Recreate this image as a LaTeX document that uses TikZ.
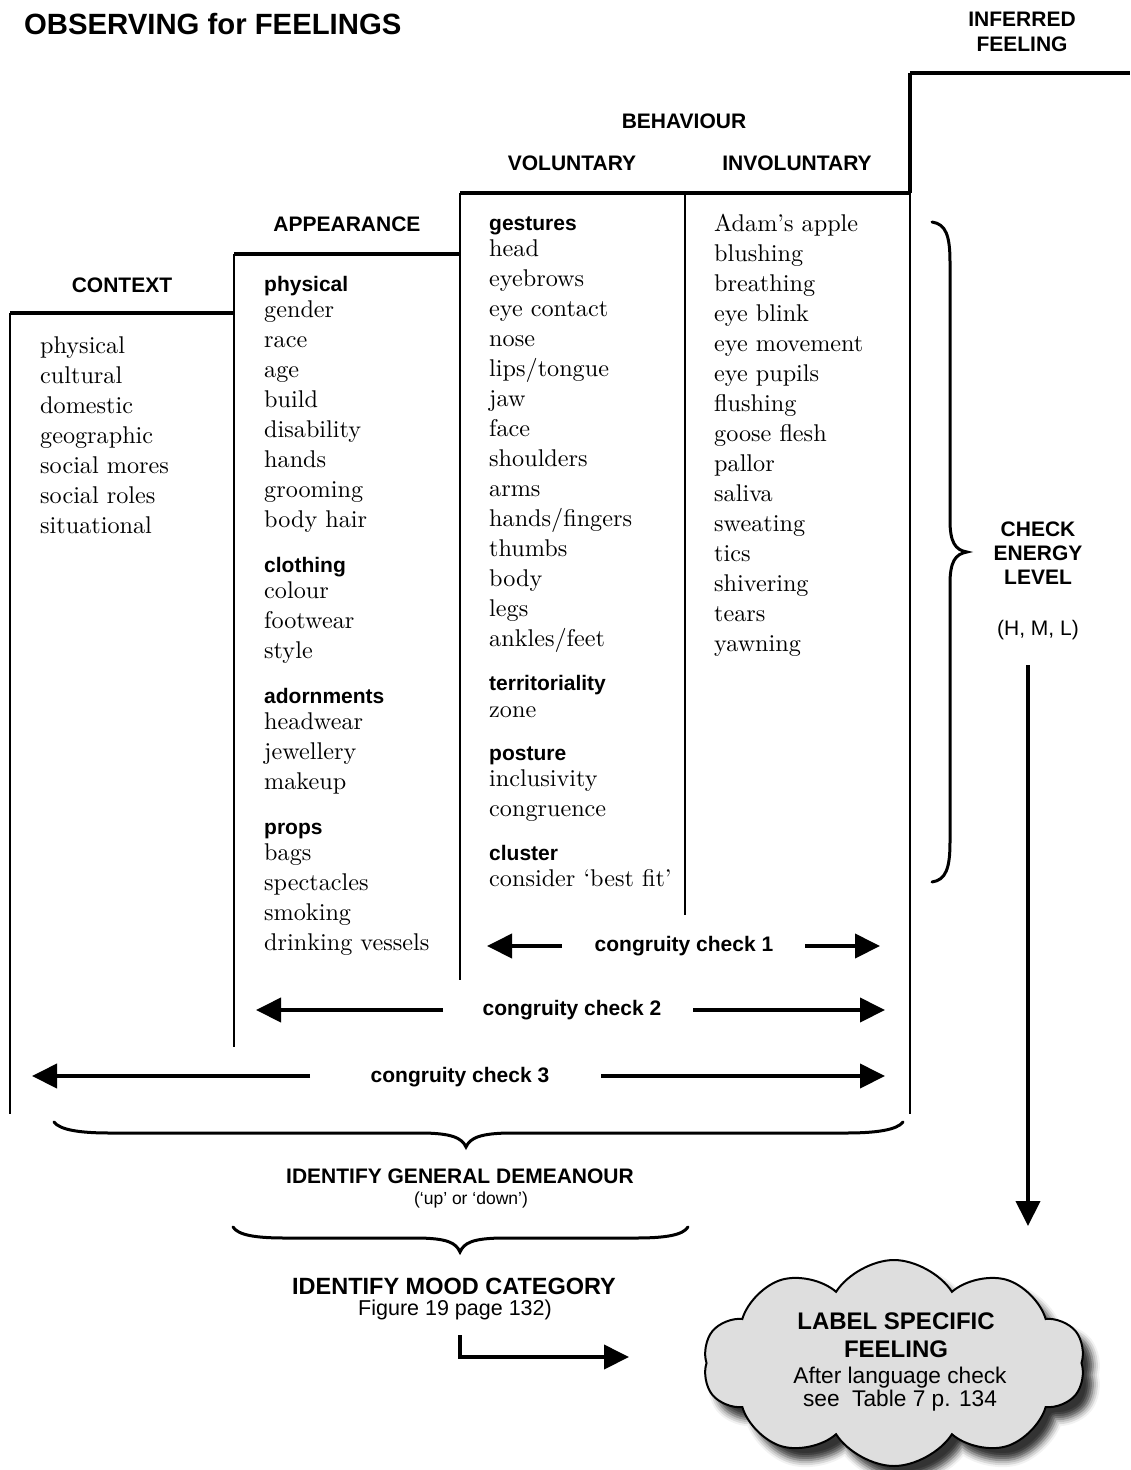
\documentclass[tikz,border=0pt]{standalone}
\usepackage{fontspec}
\setmainfont{lmroman10-regular.otf}
\setsansfont{Liberation Sans}
\usetikzlibrary{arrows.meta,shapes.symbols,shadows.blur}

\definecolor{cloudfill}{RGB}{222,222,222}
\newcommand\grouphead[1]{{\sffamily\bfseries\fontsize{21}{30}\selectfont #1}}

\begin{document}
\begin{tikzpicture}[x=1pt,y=-1pt,
  lab/.style={font=\sffamily\bfseries\fontsize{21}{24}\selectfont, inner sep=0pt, align=center},
  plain/.style={font=\sffamily\fontsize{21}{23}\selectfont, inner sep=0pt, align=center},
  col/.style={anchor=north west, inner sep=0pt, align=left, font=\fontsize{24.2}{30}\selectfont},
  stepline/.style={line width=4pt},
  rule/.style={line width=2.8pt},
  bracestroke/.style={line width=3pt, line cap=round},
  arr/.style={line width=4pt, line join=miter, -{Triangle[length=25pt,width=24pt]}},
]
\useasboundingbox (0,0) rectangle (1130,1470);

% staircase outline
\draw[stepline] (10,313) -- (234,313) (234,254) -- (460,254)
                (460,193) -- (910,193) (910,73) -- (1130,73);
\draw[rule] (10,313) -- (10,1114);
\draw[rule] (234,254) -- (234,1047);
\draw[rule] (460,193) -- (460,980);
\draw[rule] (685,193) -- (685,915);
\draw[stepline] (910,73) -- (910,193);
\draw[rule] (910,193) -- (910,1114);

% headings
\node[anchor=base west, inner sep=0pt, font=\sffamily\bfseries\fontsize{29.3}{34}\selectfont]
  (title) at (24,34.5) {OBSERVING for FEELINGS};
\node[lab, font=\sffamily\bfseries\fontsize{21}{25}\selectfont] (inferred) at (1022,31.5) {INFERRED\\FEELING};
\node[lab] (behaviour) at (684,121) {BEHAVIOUR};
\node[lab] (voluntary) at (572,163) {VOLUNTARY};
\node[lab] (involuntary) at (797,163) {INVOLUNTARY};
\node[lab] (appearance) at (347,224) {APPEARANCE};
\node[lab] (context) at (122,285) {CONTEXT};

% column lists
\node[col] (ctxlist) at (40,333) {\rule{0pt}{20pt}physical\\ cultural\\ domestic\\ geographic\\
  social mores\\ social roles\\ situational};
\node[col] (applist) at (264,271) {\rule{0pt}{20pt}\grouphead{physical}\\[-4pt] gender\\ race\\ age\\
  build\\ disability\\ hands\\ grooming\\ body hair\\[15pt]
  \grouphead{clothing}\\[-4pt] colour\\ footwear\\ style\\[15pt]
  \grouphead{adornments}\\[-4pt] headwear\\ jewellery\\ makeup\\[15pt]
  \grouphead{props}\\[-4pt] bags\\ spectacles\\ smoking\\ drinking vessels};
\node[col] (vollist) at (489,210) {\rule{0pt}{20pt}\grouphead{gestures}\\[-4pt] head\\ eyebrows\\
  eye contact\\ nose\\ lips/tongue\\ jaw\\ face\\ shoulders\\ arms\\ hands/fingers\\ thumbs\\
  body\\ legs\\ ankles/feet\\[14pt]
  \grouphead{territoriality}\\[-3pt] zone\\[13pt]
  \grouphead{posture}\\[-4pt] inclusivity\\ congruence\\[14pt]
  \grouphead{cluster}\\[-4pt] consider ‘best fit’};
\node[col] (invlist) at (714,211) {\rule{0pt}{20pt}Adam’s apple\\ blushing\\ breathing\\ eye blink\\
  eye movement\\ eye pupils\\ flushing\\ goose flesh\\ pallor\\ saliva\\ sweating\\ tics\\
  shivering\\ tears\\ yawning};

% energy level brace
\draw[bracestroke] (932,222) .. controls (946,224) and (950,236) .. (950,262) -- (950,520)
  .. controls (950,542) and (955,550) .. (967,552)
  .. controls (955,554) and (950,562) .. (950,584) -- (950,842)
  .. controls (950,868) and (946,880) .. (932,882);
\node[lab] (energy) at (1038,553) {CHECK\\ENERGY\\LEVEL};
\node[plain] (hml) at (1038,630) {(H, M, L)};
\coordinate (energyfrom) at (1028,665);
\coordinate (energyto) at (1028,1226);
\draw[arr] (energyfrom) -- (energyto);

% congruity checks
\node[lab] (cg1) at (684,946) {congruity check 1};
\coordinate (cg1l) at (487,946);
\coordinate (cg1ls) at (562,946);
\coordinate (cg1rs) at (805,946);
\coordinate (cg1r) at (880,946);
\draw[arr] (cg1ls) -- (cg1l);
\draw[arr] (cg1rs) -- (cg1r);

\node[lab] (cg2) at (572,1010) {congruity check 2};
\coordinate (cg2l) at (256,1010);
\coordinate (cg2ls) at (443,1010);
\coordinate (cg2rs) at (693,1010);
\coordinate (cg2r) at (885,1010);
\draw[arr] (cg2ls) -- (cg2l);
\draw[arr] (cg2rs) -- (cg2r);

\node[lab] (cg3) at (460,1077) {congruity check 3};
\coordinate (cg3l) at (32,1076);
\coordinate (cg3ls) at (310,1076);
\coordinate (cg3rs) at (601,1076);
\coordinate (cg3r) at (885,1076);
\draw[arr] (cg3ls) -- (cg3l);
\draw[arr] (cg3rs) -- (cg3r);

% demeanour and mood braces
\draw[bracestroke] (54,1122) .. controls (60,1130) and (80,1133) .. (110,1133) -- (420,1133)
  .. controls (452,1133) and (462,1138) .. (466,1147)
  .. controls (470,1138) and (480,1133) .. (512,1133) -- (846,1133)
  .. controls (876,1133) and (897,1130) .. (903,1122);
\node[lab] (demeanour) at (460,1176) {IDENTIFY GENERAL DEMEANOUR};
\node[plain, font=\sffamily\fontsize{17.5}{20}\selectfont] (updown) at (471,1200) {(‘up’ or ‘down’)};

\draw[bracestroke] (233,1227) .. controls (238,1235) and (255,1238) .. (285,1238) -- (415,1238)
  .. controls (448,1238) and (456,1243) .. (460,1252)
  .. controls (464,1243) and (472,1238) .. (505,1238) -- (636,1238)
  .. controls (666,1238) and (683,1235) .. (688,1227);
\node[lab, font=\sffamily\bfseries\fontsize{23.5}{26}\selectfont] (mood) at (454,1286) {IDENTIFY MOOD CATEGORY};
\node[plain, font=\sffamily\fontsize{21.5}{23}\selectfont] (figref) at (455,1310) {Figure 19 page 132)};
\coordinate (moodfrom) at (460,1335);
\coordinate (moodto) at (629,1357);
\draw[arr] (moodfrom) |- (moodto);

% feeling cloud
\node[cloud, draw, line width=2pt, fill=cloudfill, cloud puffs=10, cloud puff arc=115,
  cloud ignores aspect, minimum width=382pt, minimum height=206pt, inner sep=0pt,
  blur shadow={shadow xshift=10pt, shadow yshift=-12pt, shadow blur radius=7pt, shadow opacity=80}]
  (cloud) at (894,1363) {};
\node[lab, font=\sffamily\bfseries\fontsize{24}{28}\selectfont] (label) at (896,1335) {LABEL SPECIFIC\\FEELING};
\node[plain, font=\sffamily\fontsize{22.7}{23.5}\selectfont] (langcheck) at (900,1389) {After language check\\see~~Table 7 p. 134};
\end{tikzpicture}
\end{document}
